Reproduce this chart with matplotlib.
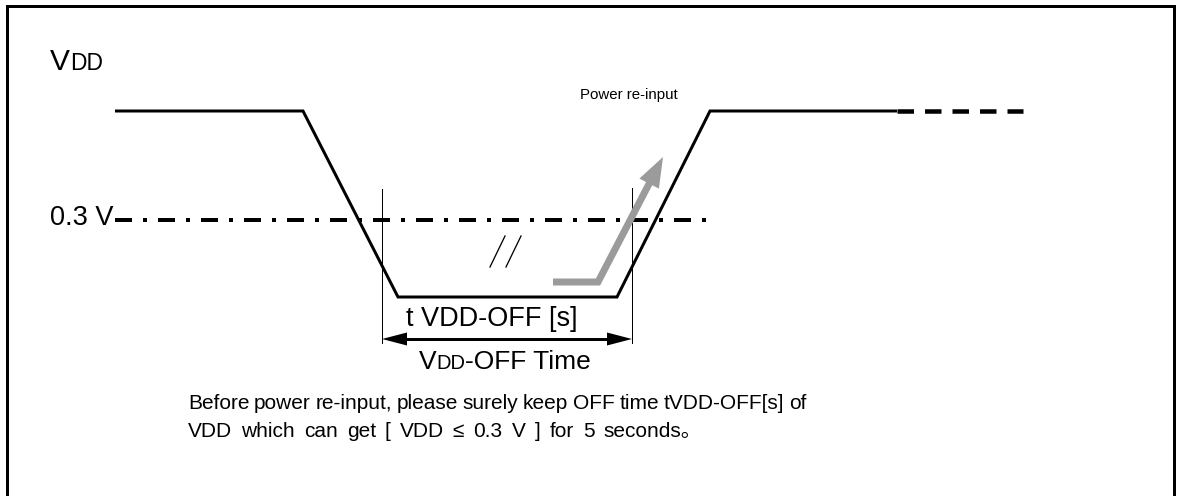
import matplotlib
matplotlib.use('Agg')
import matplotlib.pyplot as plt
import numpy as np
from matplotlib.patches import Polygon

plt.rcParams['font.family'] = ['Liberation Sans', 'Noto Sans CJK JP']
plt.rcParams['lines.scale_dashes'] = False

# ---------------- data (pixel space of the drawing) ----------------
wave_x = [115, 303, 398, 617, 710, 897]
wave_y = [111, 111, 297, 297, 111, 111]
tail_x = [897, 1023]
tail_y = [111, 111]
thr_x = [115, 706]
thr_y = [220, 220]
mark_x = [382, 632]
mark_top = [189, 188]
mark_bottom = 343
span_y = 339
gray_x = [553, 598, 663]
gray_y = [282, 282, 157]
brk_x = [[490, 505], [506, 521]]
brk_y = [[267, 236], [267, 236]]
frame_x = [7, 7, 1174, 1174]
frame_y = [520, 5.5, 5.5, 520]

vdd_label = ("V", "DD")
thr_label = "0.3 V"
span_label = "t VDD-OFF [s]"
time_label = ("V", "DD", "-OFF Time")
power_label = "Power re-input"
para_line1 = "Before power re-input, please surely keep OFF time tVDD-OFF[s] of"
para_line2 = "VDD which can get [ VDD \u2264 0.3 V ] for 5 seconds\u3002"

W, H = 1179, 496
fig = plt.figure(figsize=(W / 100, H / 100), dpi=100)
ax = fig.add_axes([0, 0, 1, 1])
ax.set_xlim(0, W)
ax.set_ylim(H, 0)
ax.axis('off')
PX = 0.72  # points per pixel

# frame
ax.plot(frame_x, frame_y, color='black', lw=3 * PX, solid_joinstyle='miter')

# waveform
ax.plot(wave_x, wave_y, color='black', lw=3 * PX, solid_joinstyle='miter',
        solid_capstyle='butt')
ax.plot(tail_x, tail_y, color='black', lw=4.5 * PX, dashes=(16.5 * PX, 11 * PX),
        dash_capstyle='butt')

# threshold dash-dot
ax.plot(thr_x, thr_y, color='black', lw=4 * PX,
        dashes=(17 * PX, 11 * PX, 4 * PX, 11 * PX), dash_capstyle='butt')

# marker vertical lines
for mx, mt in zip(mark_x, mark_top):
    ax.plot([mx, mx], [mt, mark_bottom], color='black', lw=1 * PX)

# double-headed arrow
hl, hw = 25, 6.5
ax.plot([mark_x[0] + hl - 2, mark_x[1] - hl + 2], [span_y, span_y], color='black',
        lw=3 * PX, solid_capstyle='butt')
ax.add_patch(Polygon([(mark_x[0], span_y), (mark_x[0] + hl, span_y - hw),
                      (mark_x[0] + hl, span_y + hw)], closed=True,
                     facecolor='black', edgecolor='none'))
ax.add_patch(Polygon([(mark_x[1], span_y), (mark_x[1] - hl, span_y - hw),
                      (mark_x[1] - hl, span_y + hw)], closed=True,
                     facecolor='black', edgecolor='none'))

# gray re-input arrow
gcol = '#9b9b9b'
tip = np.array([gray_x[-1], gray_y[-1]], float)
prev = np.array([gray_x[-2], gray_y[-2]], float)
d = (tip - prev) / np.linalg.norm(tip - prev)
nrm = np.array([-d[1], d[0]])
glen, ghw = 30, 11
base = tip - d * glen
ax.plot(gray_x[:-1] + [base[0] + d[0] * 2], gray_y[:-1] + [base[1] + d[1] * 2],
        color=gcol, lw=7 * PX, solid_joinstyle='miter', solid_capstyle='butt')
ax.add_patch(Polygon([tuple(tip), tuple(base + nrm * ghw), tuple(base - nrm * ghw)],
                     closed=True, facecolor=gcol, edgecolor='none'))

# break marks //
for bx, by in zip(brk_x, brk_y):
    ax.plot(bx, by, color='black', lw=1.3 * PX)

fig.canvas.draw()
renderer = fig.canvas.get_renderer()


def width_of(t):
    return t.get_window_extent(renderer).width


def put_runs(x, y, runs, ha='left'):
    objs = []
    widths = []
    for s, fs in runs:
        t = ax.text(0, y, s, fontsize=fs, va='baseline', ha='left')
        objs.append(t)
        widths.append(width_of(t))
    total = sum(widths)
    if ha == 'center':
        x = x - total / 2
    elif ha == 'right':
        x = x - total
    for t, w in zip(objs, widths):
        t.set_x(x)
        x += w


def justify(words, y, x0, x1, fs):
    objs = [ax.text(0, y, w, fontsize=fs, va='baseline', ha='left') for w in words]
    ws = [width_of(t) for t in objs]
    gap = (x1 - x0 - sum(ws)) / (len(words) - 1)
    x = x0
    for t, w in zip(objs, ws):
        t.set_x(x)
        x += w + gap


# labels
put_runs(50, 70, [(vdd_label[0], 21.5), (vdd_label[1], 16.5)])
ax.text(114, 225, thr_label, fontsize=19.5, va='baseline', ha='right')
ax.text(492, 326, span_label, fontsize=19.5, va='baseline', ha='center')
put_runs(505, 369, [(time_label[0], 19), (time_label[1], 14.5), (time_label[2], 19)],
         ha='center')
put_runs(580, 98.5, [(power_label, 10.8)])

# paragraph
para_fs = 15
justify(para_line1.split(' '), 409, 188, 806, para_fs)
justify(para_line2.split(' '), 437, 188, 702, para_fs)

fig.savefig('out.png', dpi=100)
